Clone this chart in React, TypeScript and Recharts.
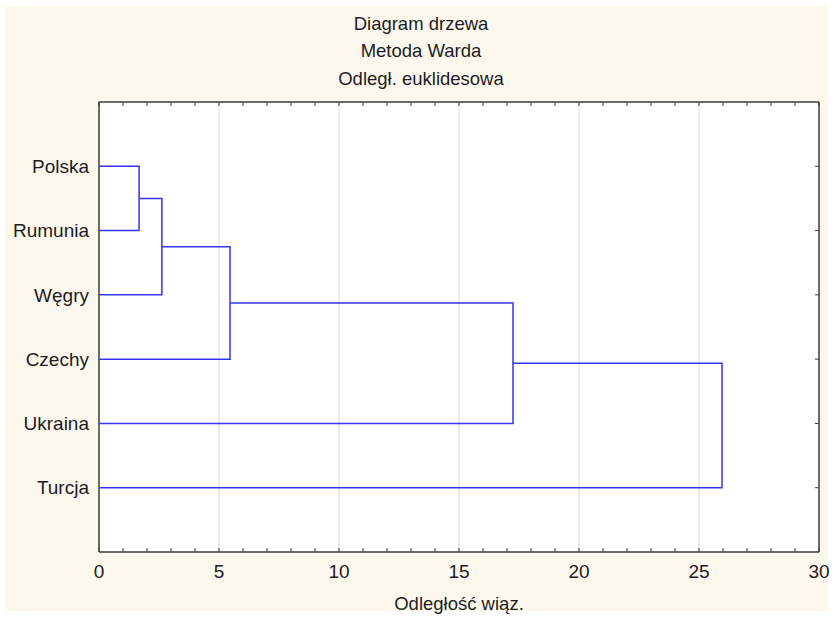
import { ScatterChart, Scatter, XAxis, YAxis, CartesianGrid, ReferenceLine } from "recharts";

// leaves top to bottom, as in the tree diagram
const leaves = ["Polska", "Rumunia", "Węgry", "Czechy", "Ukraina", "Turcja"];
// linkage distance where each next leaf joins the cluster above it
const mergeHeights = [1.67, 2.62, 5.46, 17.25, 25.96];

const xTicks = [0, 1, 2, 3, 4, 5, 6, 7, 8, 9, 10, 11, 12, 13, 14, 15, 16, 17, 18, 19, 20, 21, 22, 23, 24, 25, 26, 27, 28, 29, 30];
const xLabelTicks = [0, 5, 10, 15, 20, 25, 30];
const gridLines = [5, 10, 15, 20, 25];
const leafTicks = [1, 2, 3, 4, 5, 6];

const titleLines = ["Diagram drzewa", "Metoda Warda", "Odległ. euklidesowa"];
const xAxisTitle = "Odległość wiąz.";

const FONT = '"Liberation Sans", Arial, sans-serif';
const TEXT = "#1c1c24";
const FRAME = "#3c3c3c";
const LINK = "#3434f4";

type Pt = { x: number; y: number };

// each link is a "U": from the running cluster out to the merge height and back to the new leaf
function buildLinks(): Pt[][] {
  const links: Pt[][] = [];
  let cx = 0;
  let cy = 1;
  mergeHeights.forEach((h, k) => {
    const ly = k + 2;
    links.push([
      { x: cx, y: cy },
      { x: h, y: cy },
      { x: h, y: ly },
      { x: 0, y: ly },
    ]);
    cx = h;
    cy = (cy + ly) / 2;
  });
  return links;
}

const links = buildLinks();
// leaf anchors, used only so the mirrored top/right axes have a series bound to them
const leafPoints = leaves.map((_, i) => ({ x: 0, y: i + 1 }));

const blank = () => "";

export default function App() {
  return (
    <div style={{ position: "relative", width: 832, height: 617, background: "#ffffff", fontFamily: FONT }}>
      <style>{"body{margin:0}"}</style>
      <div style={{ position: "absolute", left: 5, top: 6, width: 823, height: 605, background: "#fdf8ed" }} />

      <div
        style={{
          position: "absolute",
          left: 10,
          top: 9.6,
          width: 822,
          textAlign: "center",
          fontSize: 18.5,
          lineHeight: "27.5px",
          color: TEXT,
        }}
      >
        {titleLines.map((t) => (
          <div key={t}>{t}</div>
        ))}
      </div>

      <div style={{ position: "absolute", left: 0, top: 0 }}>
        <ScatterChart width={832} height={617} margin={{ top: 101, right: 12, bottom: 0, left: 0 }}>
          <CartesianGrid xAxisId="b" yAxisId="l" fill="#ffffff" horizontal={false} vertical={false} />

          <XAxis
            xAxisId="b"
            type="number"
            dataKey="x"
            domain={[0, 30]}
            ticks={xTicks}
            interval={0}
            orientation="bottom"
            height={65}
            tickSize={-4}
            tickMargin={17}
            tickFormatter={(v: number) => (xLabelTicks.includes(v) ? String(v) : "")}
            axisLine={{ stroke: FRAME, strokeWidth: 1.5 }}
            tickLine={{ stroke: FRAME }}
            tick={{ fontSize: 19, fill: TEXT, fontFamily: FONT }}
            allowDataOverflow
          />
          <XAxis
            xAxisId="t"
            type="number"
            dataKey="x"
            domain={[0, 30]}
            ticks={xTicks}
            interval={0}
            orientation="top"
            height={1}
            tickSize={-4}
            tickFormatter={blank}
            tick={{ fontSize: 1 }}
            axisLine={{ stroke: FRAME, strokeWidth: 1.5 }}
            tickLine={{ stroke: FRAME }}
            allowDataOverflow
          />
          <YAxis
            yAxisId="l"
            type="number"
            dataKey="y"
            domain={[0, 7]}
            reversed
            ticks={leafTicks}
            interval={0}
            width={99}
            tickSize={0}
            tickMargin={10}
            tickLine={false}
            tickFormatter={(v: number) => leaves[v - 1] ?? ""}
            axisLine={{ stroke: FRAME, strokeWidth: 1.5 }}
            tick={{ fontSize: 19, fill: TEXT, fontFamily: FONT }}
            allowDataOverflow
          />
          <YAxis
            yAxisId="r"
            orientation="right"
            type="number"
            dataKey="y"
            domain={[0, 7]}
            reversed
            ticks={leafTicks}
            interval={0}
            width={1}
            tickSize={-4}
            tickFormatter={blank}
            tick={{ fontSize: 1 }}
            axisLine={{ stroke: FRAME, strokeWidth: 1.5 }}
            tickLine={{ stroke: FRAME }}
            allowDataOverflow
          />

          {gridLines.map((v) => (
            <ReferenceLine key={v} xAxisId="b" yAxisId="l" x={v} stroke="#d6d6d6" strokeWidth={1} />
          ))}

          <Scatter
            xAxisId="t"
            yAxisId="r"
            data={leafPoints}
            fill="none"
            shape={() => <g />}
            isAnimationActive={false}
          />

          {links.map((d, i) => (
            <Scatter
              key={i}
              xAxisId="b"
              yAxisId="l"
              data={d}
              fill="none"
              line={{ stroke: LINK, strokeWidth: 1.5 }}
              shape={() => <g />}
              isAnimationActive={false}
            />
          ))}
        </ScatterChart>
      </div>

      <div
        style={{
          position: "absolute",
          left: 99,
          top: 593.6,
          width: 720,
          textAlign: "center",
          fontSize: 18.5,
          lineHeight: "20px",
          color: TEXT,
        }}
      >
        {xAxisTitle}
      </div>
    </div>
  );
}
